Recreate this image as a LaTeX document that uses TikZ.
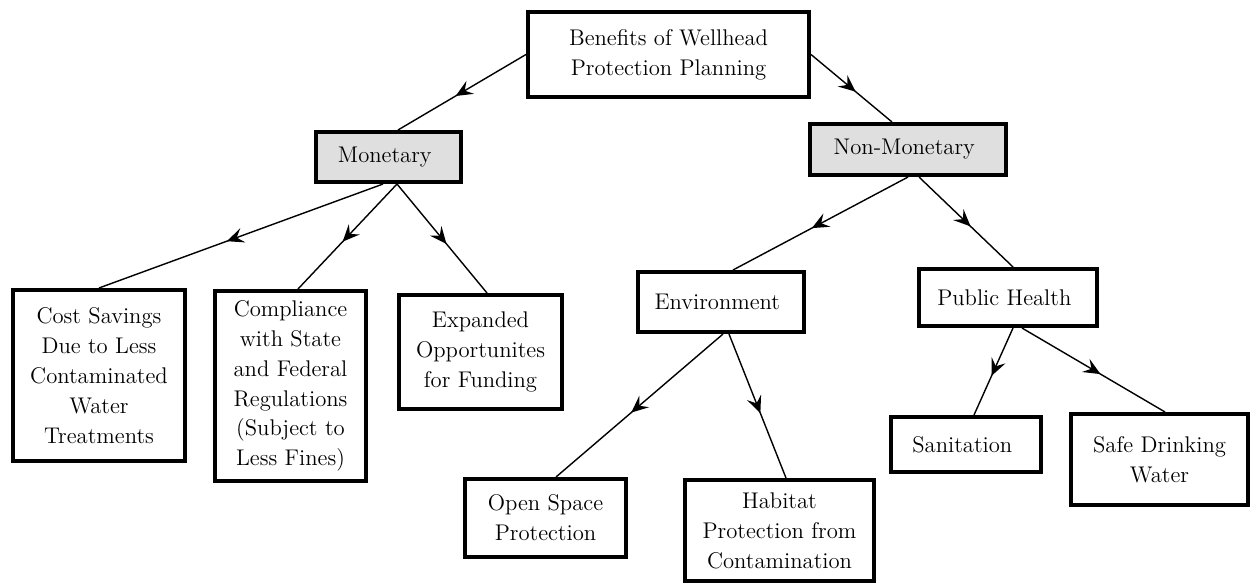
\documentclass[tikz,border=0pt]{standalone}
\usetikzlibrary{arrows.meta,decorations.markings}

\begin{document}
\begin{tikzpicture}[
        box/.style={draw, line width=2.3pt, align=center, inner sep=2pt,
            font=\fontsize{12.9}{17}\selectfont},
        shaded/.style={box, fill=gray!25},
        link/.style={line width=0.8pt, postaction={decorate},
            decoration={markings, mark=at position 0.55 with
                {\arrow{Stealth[length=0.34cm, width=0.3cm, inset=0.13cm]}}}}
    ]
        \useasboundingbox (0,0) rectangle (25.04,-11.68);
        \node[box, minimum width=5.62cm, minimum height=1.70cm] (Benefits) at (13.37,-1.09) {
            Benefits of Wellhead\\Protection Planning
        };
        \node[shaded, minimum width=2.90cm, minimum height=1.00cm] (Monetary) at (7.77,-3.14) {
            Monetary
        };
        \node[shaded, minimum width=3.92cm, minimum height=1.02cm] (NonMonetary) at (18.16,-2.99) {
            Non-Monetary
        };
        \node[box, minimum width=3.44cm, minimum height=3.42cm] (CostSavings) at (1.98,-7.51) {
            Cost Savings\\Due to Less\\Contaminated\\Water\\Treatments
        };
        \node[box, minimum width=3.02cm, minimum height=3.80cm] (Compliance) at (5.81,-7.72) {
            Compliance\\with State\\and Federal\\Regulations\\(Subject to\\Less Fines)
        };
        \node[box, minimum width=3.26cm, minimum height=2.28cm] (Expanded) at (9.61,-7.04) {
            Expanded\\Opportunites\\for Funding
        };
        \node[box, minimum width=3.32cm, minimum height=1.20cm] (Environment) at (14.42,-6.04) {
            Environment
        };
        \node[box, minimum width=3.56cm, minimum height=1.14cm] (PublicHealth) at (20.16,-5.95) {
            Public Health
        };
        \node[box, minimum width=3.22cm, minimum height=1.56cm] (OpenSpace) at (10.91,-10.36) {
            Open Space\\Protection
        };
        \node[box, minimum width=3.78cm, minimum height=2.02cm] (Habitat) at (15.59,-10.61) {
            Habitat\\Protection from\\Contamination
        };
        \node[box, minimum width=3.00cm, minimum height=1.10cm] (Sanitation) at (19.32,-8.89) {
            Sanitation
        };
        \node[box, minimum width=3.54cm, minimum height=1.82cm] (SafeWater) at (23.19,-9.19) {
            Safe Drinking\\Water
        };
        \draw[link] (Benefits.west) to ([xshift=0.19cm]Monetary.north);
        \draw[link] (Benefits.east) to ([xshift=-0.32cm]NonMonetary.north);
        \draw[link] ([xshift=-0.11cm]Monetary.south) to (CostSavings.north);
        \draw[link] ([xshift=0.17cm]Monetary.south) to ([xshift=0.15cm]Compliance.north);
        \draw[link] ([xshift=0.17cm]Monetary.south) to ([xshift=0.13cm]Expanded.north);
        \draw[link] (NonMonetary.south) to ([xshift=0.24cm]Environment.north);
        \draw[link] ([xshift=0.22cm]NonMonetary.south) to ([xshift=0.10cm]PublicHealth.north);
        \draw[link] ([xshift=0.04cm]Environment.south) to ([xshift=0.21cm]OpenSpace.north);
        \draw[link] ([xshift=0.16cm]Environment.south) to ([xshift=0.13cm]Habitat.north);
        \draw[link] ([xshift=0.10cm]PublicHealth.south) to ([xshift=0.16cm]Sanitation.north);
        \draw[link] ([xshift=0.28cm]PublicHealth.south) to ([xshift=0.11cm]SafeWater.north);
    \end{tikzpicture}
\end{document}
